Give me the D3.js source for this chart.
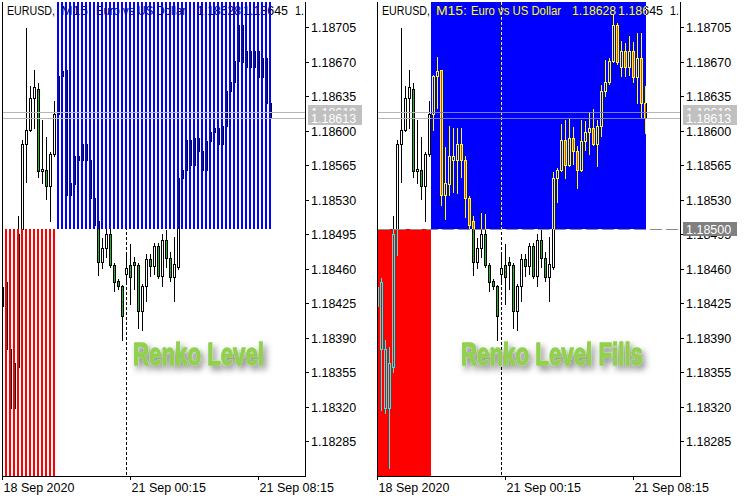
<!DOCTYPE html>
<html><head><meta charset="utf-8">
<script src="https://cdn.jsdelivr.net/npm/d3@7"></script>
<style>
body{margin:0;background:#fff;}
svg{display:block;}
text{font-family:"Liberation Sans", Arial, sans-serif;}
</style></head>
<body>
<svg id="chart" width="750" height="500"></svg>
<script>
// ---------------- DATA ----------------
const headerParts = ["EURUSD,", "M15:", "Euro vs US Dollar", "1.18628", "1.18645", "1."];
const xTickBars = [0, 32, 64];
const xTickLabels = ["18 Sep 2020", "21 Sep 00:15", "21 Sep 08:15"];
const yTickValues = [1.18285,1.18320,1.18355,1.18390,1.18425,1.18460,1.18495,1.18530,1.18565,1.18600,1.18635,1.18670,1.18705];
const separatorBar = 31;
const renkoLevel = 1.18500;
const belowBars = [0, 13];   // bars where price sat below the level (red fill)
const aboveBars = [14, 67];  // bars where price sat above the level (blue fill)
const bidPrice = 1.18613, askPrice = 1.18619;
const panelTitles = ["Renko Level", "Renko Level Fills"];

const opens  = [1.18422,1.18378,1.18319,1.18319,1.18360,1.18500,1.18586,1.18601,1.18633,1.18642,1.18559,1.18560,1.18544,1.18576,1.18617,1.18655,1.18661,1.18535,1.18546,1.18570,1.18570,1.18586,1.18570,1.18532,1.18508,1.18467,1.18481,1.18495,1.18464,1.18447,1.18442,1.18455,1.18464,1.18467,1.18464,1.18417,1.18442,1.18470,1.18463,1.18483,1.18453,1.18489,1.18471,1.18452,1.18462,1.18552,1.18560,1.18591,1.18565,1.18593,1.18579,1.18560,1.18589,1.18599,1.18603,1.18586,1.18605,1.18640,1.18649,1.18671,1.18707,1.18665,1.18681,1.18665,1.18681,1.18654,1.18674,1.18628];
const highs  = [1.18444,1.18451,1.18388,1.18380,1.18513,1.18591,1.18704,1.18645,1.18662,1.18648,1.18611,1.18594,1.18578,1.18630,1.18656,1.18675,1.18662,1.18583,1.18605,1.18603,1.18603,1.18603,1.18574,1.18534,1.18513,1.18491,1.18516,1.18515,1.18466,1.18449,1.18443,1.18474,1.18485,1.18472,1.18466,1.18444,1.18475,1.18475,1.18486,1.18486,1.18495,1.18499,1.18477,1.18492,1.18558,1.18562,1.18607,1.18611,1.18613,1.18604,1.18584,1.18611,1.18610,1.18619,1.18622,1.18611,1.18646,1.18672,1.18674,1.18718,1.18709,1.18691,1.18689,1.18696,1.18690,1.18699,1.18699,1.18645];
const lows   = [1.18419,1.18317,1.18314,1.18258,1.18355,1.18474,1.18548,1.18600,1.18603,1.18553,1.18547,1.18531,1.18508,1.18574,1.18601,1.18623,1.18525,1.18510,1.18535,1.18538,1.18537,1.18553,1.18512,1.18501,1.18454,1.18461,1.18472,1.18462,1.18437,1.18439,1.18388,1.18447,1.18424,1.18439,1.18400,1.18398,1.18427,1.18453,1.18455,1.18451,1.18442,1.18462,1.18447,1.18427,1.18460,1.18528,1.18559,1.18552,1.18564,1.18566,1.18542,1.18559,1.18580,1.18576,1.18585,1.18564,1.18595,1.18635,1.18647,1.18670,1.18668,1.18655,1.18655,1.18656,1.18649,1.18628,1.18613,1.18598];
const closes = [1.18441,1.18446,1.18378,1.18364,1.18495,1.18586,1.18601,1.18633,1.18644,1.18559,1.18561,1.18544,1.18576,1.18617,1.18655,1.18660,1.18535,1.18547,1.18574,1.18574,1.18586,1.18570,1.18532,1.18504,1.18467,1.18481,1.18495,1.18464,1.18446,1.18442,1.18412,1.18461,1.18452,1.18464,1.18417,1.18442,1.18470,1.18463,1.18483,1.18453,1.18489,1.18471,1.18452,1.18465,1.18552,1.18560,1.18591,1.18565,1.18593,1.18579,1.18560,1.18589,1.18599,1.18603,1.18586,1.18605,1.18640,1.18649,1.18671,1.18707,1.18670,1.18681,1.18665,1.18681,1.18654,1.18674,1.18628,1.18613];

// ---------------- LAYOUT / STYLE ----------------
const bars = d3.range(opens.length);
const P = {left:2, right:305, top:2, bottom:476};
const headerX = [7, 61, 96, 197, 243, 295];
const headerLen = [48, 31, 90, 44, 45, 9];
const fmt = d => d.toFixed(5);

const x = d3.scaleLinear().domain([0, 75.5]).range([2, 304]);
const y = d3.scaleLinear().domain([1.1824963, 1.1873049]).rangeRound([476, 2]);

const schemes = {
  normal: {line:"#000000", bull:"#ffffff", bear:"#26b526", text:"#000000"},
  blue:   {line:"#ffff00", bull:"#0000ff", bear:"#d94a26", text:"#ffff00"},
  red:    {line:"#00ffff", bull:"#ff0000", bear:"#264ad9", text:"#00ffff"}
};

const svg = d3.select("#chart");
const defs = svg.append("defs");
defs.append("clipPath").attr("id","plotClip").append("rect")
  .attr("x", P.left+1).attr("y", P.top).attr("width", P.right-P.left-1).attr("height", P.bottom-P.top);
const levelY = y(renkoLevel);
const redRect = {x0: P.left+1, x1: x(belowBars[1])+2, y0: levelY, y1: P.bottom};
const blueRect = {x0: x(aboveBars[0])-2, x1: x(aboveBars[1])+1, y0: P.top, y1: levelY};
defs.append("clipPath").attr("id","redClip").append("rect")
  .attr("x", redRect.x0).attr("y", redRect.y0).attr("width", redRect.x1-redRect.x0).attr("height", redRect.y1-redRect.y0);
defs.append("clipPath").attr("id","blueClip").append("rect")
  .attr("x", blueRect.x0).attr("y", blueRect.y0).attr("width", blueRect.x1-blueRect.x0).attr("height", blueRect.y1-blueRect.y0);
const f = defs.append("filter").attr("id","shadow").attr("x","-20%").attr("y","-40%").attr("width","140%").attr("height","200%");
f.append("feDropShadow").attr("dx",3).attr("dy",4).attr("stdDeviation",3)
  .attr("flood-color","#000").attr("flood-opacity",0.5);

function drawHeader(g, color){
  g.append("g").selectAll("text").data(headerParts).join("text")
    .attr("x",(d,i)=>headerX[i]).attr("y",15)
    .attr("textLength",(d,i)=>headerLen[i]).attr("lengthAdjust","spacingAndGlyphs")
    .attr("font-size",12.5).attr("fill",color).text(d=>d);
}
function drawSeparator(g, color){
  g.append("line").attr("x1", x(separatorBar)+0.5).attr("x2", x(separatorBar)+0.5)
    .attr("y1", P.top).attr("y2", P.bottom)
    .attr("stroke", color).attr("stroke-dasharray","3,2").attr("shape-rendering","crispEdges");
}
function drawCandles(g, sc){
  const cg = g.append("g").attr("shape-rendering","crispEdges");
  cg.selectAll("line").data(bars).join("line")
    .attr("x1", k=>x(k)+0.5).attr("x2", k=>x(k)+0.5)
    .attr("y1", k=>y(highs[k])).attr("y2", k=>y(lows[k])+1)
    .attr("stroke", sc.line);
  cg.selectAll("rect").data(bars).join("rect")
    .attr("x", k=>x(k)-0.5).attr("width", 2)
    .attr("y", k=>y(Math.max(opens[k],closes[k]))+0.5)
    .attr("height", k=>Math.max(1, y(Math.min(opens[k],closes[k]))-y(Math.max(opens[k],closes[k]))))
    .attr("fill", k=>closes[k]>=opens[k] ? sc.bull : sc.bear)
    .attr("stroke", sc.line);
}
function drawAxes(g){
  const ax = g.append("g").attr("transform",`translate(${P.right},0)`)
    .call(d3.axisRight(y).tickValues(yTickValues).tickFormat(fmt).tickSize(4).tickPadding(2));
  ax.select(".domain").remove();
  ax.selectAll("line").attr("stroke","#000").attr("shape-rendering","crispEdges");
  ax.selectAll("text").attr("font-size",12.5).attr("fill","#000")
    .attr("font-family",'"Liberation Sans", Arial, sans-serif');
  const bx = g.append("g").attr("transform",`translate(0,${P.bottom})`)
    .call(d3.axisBottom(x).tickValues(xTickBars).tickFormat((d,i)=>xTickLabels[i]).tickSize(4));
  bx.select(".domain").remove();
  bx.selectAll("line").attr("stroke","#000").attr("shape-rendering","crispEdges");
  bx.selectAll("text").attr("font-size",12.5).attr("fill","#000").attr("text-anchor","start")
    .attr("x",1).attr("y",15.5).attr("dy",null)
    .attr("font-family",'"Liberation Sans", Arial, sans-serif');
  g.append("path").attr("d",`M${P.left+0.5},${P.top}V${P.bottom+0.5}H${P.right+0.5}V${P.top}`)
    .attr("fill","none").attr("stroke","#000").attr("shape-rendering","crispEdges");
}
function priceLabel(g, price, bg, txt){
  const cy = y(price);
  g.append("rect").attr("x",308).attr("y",cy-7).attr("width",54).attr("height",14).attr("fill",bg);
  g.append("text").attr("x",311).attr("y",cy).attr("dy","0.36em").attr("font-size",12.5)
    .attr("fill",txt).text(fmt(price));
}
function bidAsk(g, color){
  [askPrice, bidPrice].forEach(p=>{
    g.append("line").attr("x1",P.left+1).attr("x2",P.right).attr("y1",y(p)+0.5).attr("y2",y(p)+0.5)
      .attr("stroke",color).attr("shape-rendering","crispEdges");
  });
}
function title(g, txt, x0, len){
  g.append("text").attr("x",x0).attr("y",365).attr("font-family",'"Liberation Sans Narrow","DejaVu Sans Condensed",sans-serif')
    .attr("font-weight","bold").attr("font-size",31).attr("fill","#92d050")
    .attr("stroke","#92d050").attr("stroke-width",1.3).attr("stroke-linejoin","round")
    .attr("textLength",len).attr("lengthAdjust","spacingAndGlyphs")
    .attr("filter","url(#shadow)").text(txt);
}

// ---------------- LEFT PANEL ----------------
const L = svg.append("g");
const Lp = L.append("g").attr("clip-path","url(#plotClip)");
drawHeader(Lp, schemes.normal.text);
drawSeparator(Lp, "#000");
drawCandles(Lp, schemes.normal);
const stripes = Lp.append("g").attr("shape-rendering","crispEdges");
stripes.selectAll("rect.r").data(d3.range(belowBars[0], belowBars[1]+1)).join("rect")
  .attr("x",k=>x(k)-1).attr("width",2).attr("y",levelY).attr("height",P.bottom-levelY).attr("fill","#ff0000");
stripes.selectAll("rect.b").data(d3.range(aboveBars[0], aboveBars[1]+1)).join("rect")
  .attr("x",k=>x(k)-1).attr("width",2).attr("y",P.top).attr("height",levelY-P.top).attr("fill","#0000ff");
bidAsk(Lp, "#b8b8b8");
drawAxes(L);
priceLabel(L, askPrice, "#c0c0c0", "#ffffff");
priceLabel(L, bidPrice, "#c0c0c0", "#ffffff");
title(L, panelTitles[0], 133, 131);

// ---------------- RIGHT PANEL ----------------
const R = svg.append("g").attr("transform","translate(375,0)");
const Rp = R.append("g").attr("clip-path","url(#plotClip)");
drawHeader(Rp, schemes.normal.text);
drawSeparator(Rp, "#000");
drawCandles(Rp, schemes.normal);
const redZ = Rp.append("g").attr("clip-path","url(#redClip)");
redZ.append("rect").attr("x",redRect.x0).attr("y",redRect.y0).attr("width",redRect.x1-redRect.x0).attr("height",redRect.y1-redRect.y0).attr("fill","#ff0000");
drawCandles(redZ, schemes.red);
const blueZ = Rp.append("g").attr("clip-path","url(#blueClip)");
blueZ.append("rect").attr("x",blueRect.x0).attr("y",blueRect.y0).attr("width",blueRect.x1-blueRect.x0).attr("height",blueRect.y1-blueRect.y0).attr("fill","#0000ff");
drawHeader(blueZ, schemes.blue.text);
drawSeparator(blueZ, "#ffff00");
drawCandles(blueZ, schemes.blue);
bidAsk(Rp, "#b8b8b8");
const blueLines = Rp.append("g").attr("clip-path","url(#blueClip)");
bidAsk(blueLines, "#7a7ad8");
Rp.append("line").attr("x1",P.left+1).attr("x2",P.right).attr("y1",levelY+0.5).attr("y2",levelY+0.5)
  .attr("stroke","#8c8c8c").attr("stroke-dasharray","12,4").attr("shape-rendering","crispEdges");
drawAxes(R);
priceLabel(R, askPrice, "#c0c0c0", "#ffffff");
priceLabel(R, bidPrice, "#c0c0c0", "#ffffff");
priceLabel(R, renkoLevel, "#808080", "#ffffff");
title(R, panelTitles[1], 86, 182);
</script>
</body></html>
